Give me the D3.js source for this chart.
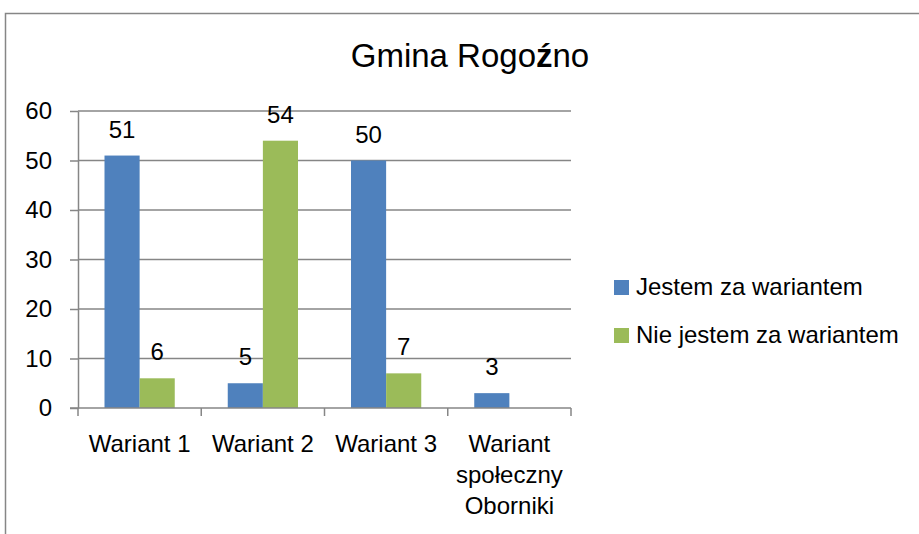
<!DOCTYPE html>
<html><head><meta charset="utf-8">
<script src="https://cdn.jsdelivr.net/npm/d3@7"></script>
<style>
html,body{margin:0;padding:0;background:#fff;}
text{font-family:"Liberation Sans",Arial,sans-serif;fill:#000;}
</style></head>
<body><svg id="c" width="919" height="534"></svg>
<script>
const categories = ["Wariant 1","Wariant 2","Wariant 3","Wariant społeczny Oborniki"];
const categoryLines = [["Wariant 1"],["Wariant 2"],["Wariant 3"],["Wariant","społeczny","Oborniki"]];
const seriesNames = ["Jestem za wariantem","Nie jestem za wariantem"];
const jestem = [51,5,50,3];
const nieJestem = [6,54,7,null];
const yTicks = [0,10,20,30,40,50,60];
const colors = ["#4F81BD","#9BBB59"];

(function(){
const svg = d3.select("#c");
const FS = "24px";
// frame
svg.append("path").attr("d","M5.5,534 L5.5,13.5 L919,13.5").attr("fill","none").attr("stroke","#868686").attr("stroke-width",1.5);

// title
const title = svg.append("text").attr("x",470).attr("y",67).attr("text-anchor","middle")
  .style("font-size","33px");
title.append("tspan").text("Gmina Rogo");
title.append("tspan").style("font-weight","bold").text("ź");
title.append("tspan").text("no");

const pL=78, pR=571, pT=111, pB=408;
const x = d3.scaleBand().domain(categories).range([pL,pR]).paddingInner(0).paddingOuter(0);
const y = d3.scaleLinear().domain([0,60]).range([pB,pT]);
const bw = x.bandwidth();
const barW = bw*0.285;
const gx = d3.scaleBand().domain([0,1]).range([0,barW*2]);

// gridlines
svg.append("g").selectAll("line").data(yTicks.filter(d=>d>0)).join("line")
  .attr("x1",pL).attr("x2",pR).attr("y1",d=>y(d)).attr("y2",d=>y(d))
  .attr("stroke","#868686").attr("stroke-width",1.5);

// y axis
const ya = svg.append("g").attr("transform",`translate(${pL},0)`)
  .call(d3.axisLeft(y).tickValues(yTicks).tickSize(8).tickPadding(18).tickSizeOuter(0));
ya.select(".domain").attr("stroke","#868686").attr("stroke-width",1.5);
ya.selectAll(".tick line").attr("stroke","#868686").attr("stroke-width",1.5);
ya.selectAll(".tick text").style("font-size",FS).style("font-family","Liberation Sans, Arial, sans-serif").attr("fill","#000");

// bars
const series = [jestem,nieJestem];
series.forEach((vals,si)=>{
  const g = svg.append("g");
  const data = categories.map((c,i)=>({c,v:vals[i]})).filter(d=>d.v!=null);
  g.selectAll("rect").data(data).join("rect")
    .attr("x",d=>x(d.c)+bw/2-barW+gx(si))
    .attr("width",gx.bandwidth())
    .attr("y",d=>y(d.v)).attr("height",d=>pB-y(d.v))
    .attr("fill",colors[si]);
  g.selectAll("text").data(data).join("text")
    .attr("x",d=>x(d.c)+bw/2-barW+gx(si)+gx.bandwidth()/2)
    .attr("y",d=>y(d.v)-18)
    .attr("text-anchor","middle").style("font-size",FS)
    .text(d=>d.v);
});

// x axis
svg.append("line").attr("x1",pL-8).attr("x2",pR).attr("y1",pB).attr("y2",pB)
  .attr("stroke","#868686").attr("stroke-width",1.5);
const bounds = categories.map(c=>x(c)).concat([pR]);
svg.append("g").selectAll("line").data(bounds).join("line")
  .attr("x1",d=>d).attr("x2",d=>d).attr("y1",pB).attr("y2",pB+8)
  .attr("stroke","#868686").attr("stroke-width",1.5);
const xl = svg.append("g");
categories.forEach((c,i)=>{
  const t = xl.append("text").attr("x",x(c)+bw/2).attr("y",452).attr("text-anchor","middle")
    .style("font-size",FS);
  categoryLines[i].forEach((ln,j)=>{
    t.append("tspan").attr("x",x(c)+bw/2).attr("dy",j===0?0:31).text(ln);
  });
});

// legend
const lg = svg.append("g");
seriesNames.forEach((n,i)=>{
  const yy = 280 + i*48;
  lg.append("rect").attr("x",614).attr("y",yy).attr("width",15).attr("height",15).attr("fill",colors[i]);
  lg.append("text").attr("x",636).attr("y",yy+15).style("font-size",FS).text(n);
});
})();
</script></body></html>
